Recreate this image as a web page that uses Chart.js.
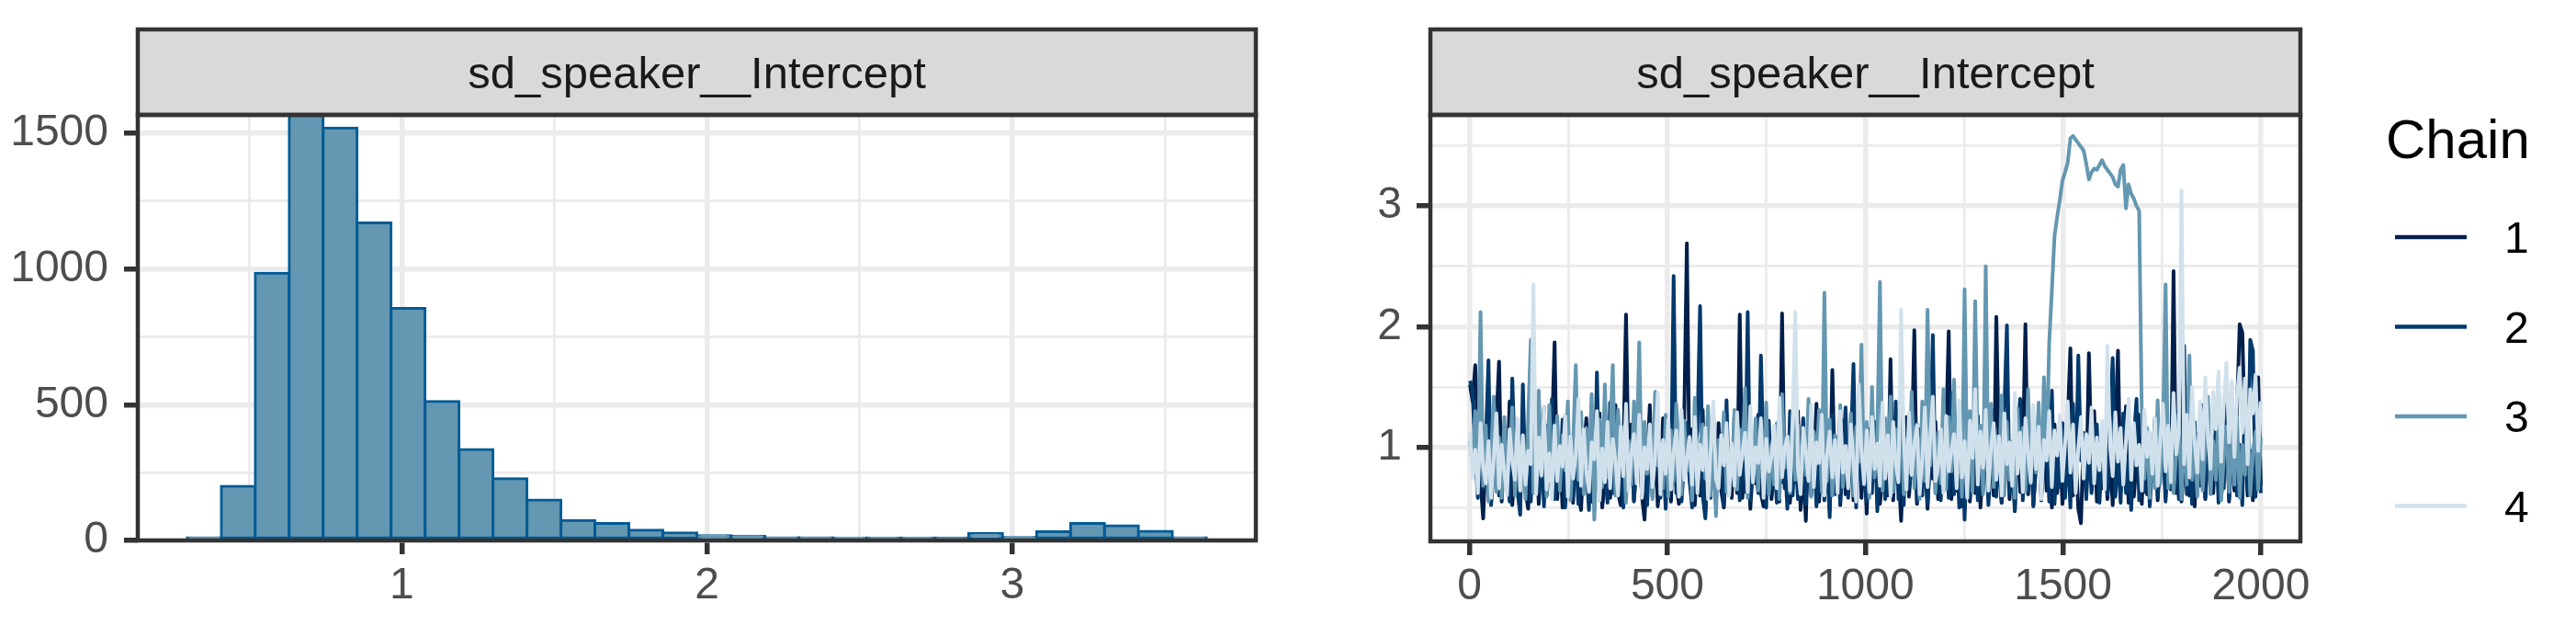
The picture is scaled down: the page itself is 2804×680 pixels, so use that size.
<!DOCTYPE html>
<html>
<head>
<meta charset="utf-8">
<title>sd_speaker__Intercept</title>
<script src="https://cdn.jsdelivr.net/npm/chart.js@4.4.1/dist/chart.umd.min.js"></script>
<style>
  html, body { margin: 0; padding: 0; background: #ffffff; }
  #wrap { position: relative; width: 2804px; height: 680px; overflow: hidden; }
  .panel { position: absolute; top: 0; }
  #histBox { left: 0; }
  #traceBox { left: 1400px; }
</style>
</head>
<body>
<div id="wrap">
  <div class="panel" id="histBox"><canvas id="histChart" width="1400" height="680"></canvas></div>
  <div class="panel" id="traceBox"><canvas id="traceChart" width="1404" height="680"></canvas></div>
</div>
<script>
const panelTitle = 'sd_speaker__Intercept';

// Histogram: bin centres and counts (30 bins)
const binCenters = [0.3527, 0.4640, 0.5753, 0.6866, 0.7979, 0.9092, 1.0205, 1.1318, 1.2431, 1.3544,
                    1.4657, 1.5770, 1.6883, 1.7996, 1.9109, 2.0222, 2.1335, 2.2448, 2.3561, 2.4674,
                    2.5787, 2.6900, 2.8013, 2.9126, 3.0239, 3.1352, 3.2465, 3.3578, 3.4691, 3.5804];
const binCounts = [10, 200, 985, 1568, 1520, 1170, 855, 512, 335, 228,
                   149, 74, 63, 38, 28, 18, 16, 10, 10, 6,
                   4, 4, 3, 25, 12, 32, 63, 54, 34, 10];
const histXMajor = [1, 2, 3];
const histXMinor = [0.5, 1.5, 2.5, 3.5];
const histYMajor = [0, 500, 1000, 1500];
const histYMinor = [250, 750, 1250];

// Trace plot: 4 chains, thinned draws spread over iterations 1..2000
const chainLabels = ['1', '2', '3', '4'];
const chainColors = ['#011f4b', '#03396c', '#6497b1', '#d1e1ec'];
const firstIter = 1;
const lastIter = 2000;

const chain1 = [
  1.52, 1.38, 1.68, 1.10, 0.72, 0.41, 0.95, 1.30, 0.62, 0.88, 1.21, 1.71, 0.55, 0.98, 0.70, 1.38, 0.52, 0.84, 1.12, 0.58,
  1.25, 0.64, 0.49, 1.05, 0.77, 1.18, 0.53, 0.92, 1.33, 0.60, 0.81, 1.10, 1.87, 0.57, 0.99, 0.50, 1.26, 0.68, 0.87, 0.54,
  1.16, 0.61, 0.48, 0.93, 1.24, 0.66, 0.55, 1.02, 0.79, 1.28, 0.50, 0.71, 1.09, 0.58, 0.86, 1.35, 0.62, 0.52, 0.97, 2.10,
  0.75, 1.19, 0.56, 0.90, 1.06, 0.60, 0.40, 0.87, 1.35, 0.59, 1.08, 0.51, 0.77, 1.24, 0.63, 0.99, 0.55, 1.14, 0.69, 0.53,
  0.94, 1.22, 2.69, 0.74, 1.15, 0.52, 0.91, 0.60, 1.31, 0.47, 1.06, 0.68, 0.89, 0.53, 1.20, 0.64, 0.50, 1.01, 0.85, 0.58,
  1.27, 0.62, 2.10, 0.58, 0.96, 1.13, 0.49, 0.85, 0.70, 1.27, 0.62, 0.51, 0.96, 1.10, 0.57, 0.82, 1.19, 0.55, 2.11, 0.66,
  1.09, 0.54, 0.93, 0.71, 1.30, 0.48, 0.82, 0.39, 1.18, 0.60, 0.84, 1.36, 0.55, 0.99, 0.63, 1.12, 0.48, 1.64, 0.70, 1.04,
  0.52, 1.22, 0.61, 0.90, 1.08, 0.56, 0.80, 1.29, 0.58, 0.97, 0.45, 1.15, 0.67, 0.88, 1.02, 0.53, 0.76, 1.18, 0.60, 1.73,
  0.56, 1.07, 0.81, 0.39, 0.95, 1.25, 0.59, 0.94, 1.97, 0.53, 1.15, 0.67, 0.88, 0.49, 1.03, 0.74, 1.21, 0.57, 0.92, 0.64,
  1.10, 1.96, 0.57, 0.92, 0.64, 1.21, 0.51, 0.84, 1.10, 0.55, 0.98, 0.62, 1.26, 0.50, 0.87, 1.17, 0.58, 1.32, 0.60, 2.08,
  0.95, 0.54, 0.83, 1.14, 0.57, 0.99, 0.47, 1.26, 0.63, 0.90, 2.02, 0.61, 1.05, 0.52, 0.86, 1.19, 0.56, 1.11, 0.64, 0.93,
  0.50, 1.19, 0.62, 1.02, 0.53, 0.89, 1.23, 1.82, 0.60, 0.96, 0.49, 0.37, 1.08, 0.62, 1.78, 0.85, 1.30, 0.55, 0.98, 0.66,
  1.13, 0.57, 0.91, 0.52, 1.16, 1.80, 0.63, 0.87, 1.34, 0.54, 1.00, 0.59, 0.88, 1.27, 0.53, 1.06, 0.61, 0.95, 0.72, 1.18,
  0.56, 0.90, 1.24, 0.58, 1.02, 0.65, 2.46, 0.62, 1.14, 0.55, 0.86, 1.28, 0.60, 0.97, 0.51, 1.11, 0.68, 1.35, 0.57, 0.93,
  1.20, 0.62, 1.04, 1.54, 0.58, 0.89, 1.26, 0.55, 1.09, 0.64, 1.31, 2.02, 1.95, 1.12, 0.60, 0.97, 0.56, 1.22, 1.58, 0.68
];
const chain2 = [
  1.55, 1.48, 0.92, 0.58, 1.20, 0.66, 1.04, 1.72, 0.52, 0.83, 1.31, 0.60, 0.97, 1.18, 0.74, 0.55, 1.57, 0.88, 0.63, 0.44,
  1.52, 0.69, 1.10, 0.55, 0.95, 1.26, 0.63, 1.01, 0.51, 1.18, 0.72, 1.40, 0.57, 0.89, 0.64, 1.23, 0.50, 0.88, 1.09, 0.59,
  0.97, 0.53, 1.15, 0.67, 0.84, 0.48, 1.29, 0.61, 1.62, 0.56, 1.04, 0.90, 0.54, 1.37, 0.62, 1.12, 0.68, 0.93, 0.50, 1.20,
  0.73, 1.06, 0.55, 0.87, 1.32, 0.60, 0.96, 0.52, 1.11, 0.64, 0.82, 1.28, 0.58, 0.94, 0.49, 1.17, 0.66, 2.42, 0.62, 1.06,
  0.55, 0.88, 1.20, 0.73, 0.50, 0.96, 1.14, 2.17, 0.60, 0.41, 0.96, 0.58, 1.28, 0.64, 0.82, 1.11, 0.52, 1.39, 0.60, 0.94,
  0.71, 1.02, 0.56, 1.19, 0.63, 2.12, 0.56, 1.07, 0.85, 0.62, 1.76, 0.89, 0.50, 1.22, 0.66, 0.99, 0.54, 1.15, 0.71, 0.92,
  0.49, 1.30, 0.60, 1.03, 0.57, 0.86, 1.24, 0.53, 0.97, 0.65, 1.10, 0.51, 0.88, 1.19, 0.56, 0.95, 0.42, 1.27, 0.61, 1.08,
  0.54, 0.90, 1.33, 0.58, 0.99, 1.69, 0.50, 1.16, 0.69, 0.85, 0.55, 1.02, 0.62, 1.21, 0.47, 0.91, 1.13, 0.57, 0.86, 1.05,
  0.64, 1.38, 0.57, 0.98, 0.52, 1.13, 0.66, 0.83, 1.26, 0.55, 0.94, 0.60, 1.17, 0.53, 0.89, 1.93, 0.62, 1.09, 0.56, 0.97,
  1.22, 0.58, 1.45, 0.61, 0.97, 0.50, 1.22, 0.40, 1.04, 0.58, 0.92, 1.31, 0.56, 1.00, 0.64, 1.19, 0.52, 0.86, 1.12, 0.59,
  0.95, 0.54, 1.28, 2.01, 0.62, 0.90, 0.48, 1.07, 1.40, 0.56, 0.98, 0.63, 1.15, 0.51, 0.87, 1.24, 0.60, 0.93, 1.06, 0.55,
  1.47, 0.53, 0.94, 0.67, 1.20, 0.58, 1.01, 0.50, 1.36, 0.64, 1.76, 0.89, 1.12, 0.57, 1.03, 0.62, 0.88, 1.19, 0.54, 0.96,
  1.08, 0.61, 1.26, 1.74, 0.59, 0.95, 0.54, 1.28, 0.62, 0.90, 0.48, 1.07, 1.40, 0.56, 0.98, 0.63, 1.15, 0.51, 0.87, 1.24,
  0.60, 0.93, 1.06, 0.55, 1.17, 0.66, 0.90, 1.30, 0.57, 1.02, 1.84, 0.61, 0.99, 0.53, 1.21, 0.68, 0.92, 1.14, 0.58, 1.33,
  0.62, 0.95, 1.18, 0.54, 1.08, 0.66, 1.39, 0.57, 0.91, 1.25, 0.60, 1.02, 0.52, 1.47, 0.64, 1.89, 1.80, 0.59, 1.03, 0.62
];
const chain3 = [
  1.05, 0.86, 1.30, 0.74, 2.12, 0.68, 1.18, 0.55, 0.96, 1.42, 0.63, 1.08, 0.58, 1.25, 0.71, 0.92, 1.33, 0.60, 1.14, 0.66,
  1.01, 0.57, 1.22, 1.89, 0.62, 0.89, 1.47, 0.76, 1.12, 0.59, 1.35, 0.70, 0.97, 1.26, 0.64, 1.10, 0.81, 1.38, 0.56, 1.02,
  1.68, 0.73, 1.29, 0.61, 1.16, 0.84, 1.44, 0.40, 0.99, 1.23, 0.67, 1.52, 0.75, 1.08, 1.68, 0.60, 1.31, 0.88, 1.17, 0.54,
  1.05, 0.69, 1.38, 0.93, 1.87, 0.62, 1.21, 0.78, 1.11, 0.57, 1.46, 0.85, 1.03, 0.66, 1.27, 0.59, 1.14, 0.72, 1.36, 0.98,
  0.61, 1.22, 0.80, 1.09, 0.56, 1.41, 0.68, 1.00, 1.19, 0.74, 1.34, 0.60, 1.13, 0.43, 1.06, 0.87, 1.29, 0.63, 1.02, 0.76,
  1.31, 0.65, 1.15, 0.90, 1.49, 0.58, 1.07, 0.71, 1.24, 0.64, 1.12, 0.79, 1.37, 0.61, 1.02, 0.69, 1.20, 0.57, 1.44, 0.83,
  1.09, 0.62, 1.26, 0.73, 1.18, 0.66, 1.05, 0.77, 1.40, 0.59, 1.13, 0.86, 1.31, 0.63, 2.28, 0.72, 1.23, 0.60, 1.10, 0.81,
  1.35, 0.67, 1.01, 0.74, 1.28, 0.60, 1.17, 0.88, 1.85, 0.69, 1.21, 0.58, 1.50, 0.75, 1.09, 2.37, 0.64, 1.24, 0.82, 1.42,
  0.63, 1.15, 0.90, 1.33, 0.61, 1.07, 0.79, 1.46, 0.66, 1.19, 0.57, 1.38, 0.72, 2.14, 0.85, 1.27, 0.62, 1.12, 0.70, 1.48,
  0.65, 1.25, 0.80, 1.56, 0.68, 1.14, 0.59, 2.31, 0.76, 1.30, 0.63, 2.21, 0.88, 1.18, 0.61, 2.50, 0.74, 1.36, 0.67, 1.09,
  0.82, 1.43, 0.60, 1.21, 0.73, 1.05, 0.58, 1.32, 0.86, 1.16, 0.64, 1.48, 0.70, 1.10, 0.79, 1.37, 0.62, 1.58, 0.93, 1.87,
  2.30, 2.75, 2.91, 3.05, 3.21, 3.28, 3.36, 3.56, 3.58, 3.55, 3.52, 3.49, 3.46, 3.35, 3.22, 3.28, 3.31, 3.30, 3.34, 3.38,
  3.33, 3.30, 3.27, 3.24, 3.18, 3.16, 3.30, 3.34, 2.98, 3.18, 3.10, 3.06, 3.00, 2.96, 1.26, 0.74, 1.16, 0.58, 1.03, 0.66,
  1.39, 0.70, 1.12, 2.35, 0.66, 1.08, 0.62, 0.95, 1.28, 0.57, 1.15, 0.69, 1.76, 0.73, 1.05, 0.59, 1.21, 0.64, 0.99, 1.42,
  0.61, 1.05, 0.73, 1.30, 0.56, 0.92, 1.17, 0.63, 1.10, 0.69, 1.25, 0.58, 1.02, 0.77, 1.34, 0.60, 0.96, 1.13, 0.65, 1.08
];
const chain4 = [
  1.12, 0.75, 0.98, 0.62, 1.20, 0.83, 0.70, 1.05, 0.58, 0.91, 1.28, 0.66, 1.02, 0.79, 0.60, 1.15, 0.88, 0.73, 1.24, 0.64,
  1.10, 0.69, 0.97, 0.86, 2.35, 0.61, 1.08, 0.77, 1.33, 0.65, 0.95, 0.57, 1.18, 0.72, 1.01, 0.84, 1.26, 0.59, 1.09, 0.74,
  0.93, 1.40, 0.68, 1.15, 0.80, 0.63, 1.04, 0.90, 1.30, 0.56, 0.99, 0.71, 1.21, 0.66, 1.07, 0.89, 0.60, 1.17, 0.76, 1.36,
  0.64, 0.94, 1.11, 0.70, 1.27, 0.58, 1.00, 0.82, 1.19, 0.67, 0.92, 1.45, 0.61, 1.06, 0.78, 1.23, 0.65, 0.96, 1.14, 0.59,
  1.31, 0.73, 0.90, 1.08, 0.69, 1.25, 0.62, 1.02, 0.81, 1.16, 0.57, 0.97, 1.38, 0.74, 0.66, 1.10, 0.85, 1.20, 0.60, 1.03,
  0.68, 1.29, 0.77, 0.95, 1.12, 0.63, 1.34, 0.71, 1.00, 0.87, 1.24, 0.58, 1.07, 0.80, 0.92, 1.18, 0.66, 1.41, 0.75, 0.99,
  1.09, 0.64, 1.22, 2.12, 0.83, 0.61, 1.16, 0.96, 0.72, 1.35, 0.67, 1.04, 0.87, 1.27, 0.60, 0.94, 1.13, 0.75, 1.06, 0.62,
  1.30, 0.79, 1.01, 0.66, 1.19, 0.88, 0.55, 1.52, 0.98, 0.70, 1.14, 0.63, 1.25, 0.82, 1.03, 0.68, 1.37, 0.74, 1.10, 0.59,
  1.21, 0.86, 0.71, 2.14, 1.08, 0.65, 1.29, 0.77, 1.02, 1.18, 0.61, 0.90, 1.33, 0.67, 1.07, 1.42, 0.72, 0.84, 1.15, 0.62,
  1.26, 0.80, 0.97, 1.11, 0.66, 1.39, 0.75, 1.05, 0.58, 1.22, 0.91, 1.48, 0.69, 1.13, 0.83, 1.31, 0.64, 1.00, 1.20, 0.73,
  1.09, 0.60, 1.28, 0.86, 1.04, 0.68, 1.45, 0.78, 1.12, 0.63, 1.24, 0.95, 0.71, 1.35, 0.82, 1.17, 0.57, 1.06, 0.89, 1.30,
  0.67, 1.14, 0.93, 1.27, 0.72, 1.03, 1.38, 0.79, 1.19, 0.62, 0.99, 1.25, 0.74, 1.11, 0.87, 1.33, 0.70, 1.08, 0.81, 1.22,
  0.65, 1.84, 1.01, 0.76, 1.29, 0.88, 1.16, 0.69, 1.05, 1.40, 0.73, 1.20, 0.85, 1.02, 0.64, 1.31, 0.92, 1.13, 0.78, 1.24,
  0.68, 1.07, 1.36, 0.80, 1.18, 0.71, 1.45, 0.94, 1.12, 3.13, 0.86, 1.27, 0.75, 1.50, 1.03, 0.79, 1.38, 0.90, 1.58, 1.09,
  0.82, 1.46, 1.15, 1.63, 0.88, 1.35, 1.70, 1.04, 1.55, 0.92, 1.42, 1.66, 1.12, 1.57, 0.86, 1.48, 1.28, 1.60, 0.97, 1.38
];
const traceXMajor = [0, 500, 1000, 1500, 2000];
const traceXMinor = [250, 750, 1250, 1750];
const traceYMajor = [1, 2, 3];
const traceYMinor = [0.5, 1.5, 2.5, 3.5];

const fontFamily = '"Liberation Sans", Arial, Helvetica, sans-serif';
Chart.defaults.font.family = fontFamily;
Chart.defaults.color = '#4D4D4D';

// ggplot-like axis: major + minor grid lines, ticks and labels on majors only
function ggScale(min, max, major, minor, thickness, labelPad) {
    const all = major.concat(minor).sort((a, b) => a - b);
    const isMajor = v => major.includes(v);
    return {
        type: 'linear',
        min: min,
        max: max,
        offset: false,
        afterBuildTicks: scale => { scale.ticks = all.map(v => ({ value: v })); },
        afterFit: scale => {
            if (scale.isHorizontal()) scale.height = thickness;
            else scale.width = thickness;
        },
        ticks: {
            autoSkip: false,
            maxRotation: 0,
            padding: labelPad,
            color: '#4D4D4D',
            font: { size: 48 },
            callback: v => isMajor(v) ? String(v) : ''
        },
        grid: {
            offset: false,
            color: '#EBEBEB',
            lineWidth: c => isMajor(c.tick.value) ? 5.5 : 2.8,
            drawTicks: true,
            tickLength: 15,
            tickWidth: 5.5,
            tickColor: c => isMajor(c.tick.value) ? '#333333' : 'rgba(0,0,0,0)'
        },
        border: { display: false }
    };
}

// Facet strip on top of the panel plus the panel border
const facetFrame = {
    id: 'facetFrame',
    afterDraw(chart, args, opts) {
        const ctx = chart.ctx;
        const a = chart.chartArea;
        ctx.save();
        ctx.fillStyle = '#D9D9D9';
        ctx.fillRect(a.left, opts.top, a.right - a.left, a.top - opts.top);
        ctx.lineWidth = 4.5;
        ctx.strokeStyle = '#333333';
        ctx.strokeRect(a.left, opts.top, a.right - a.left, a.top - opts.top);
        ctx.strokeRect(a.left, a.top, a.right - a.left, a.bottom - a.top);
        ctx.fillStyle = '#1A1A1A';
        ctx.font = '49px ' + fontFamily;
        ctx.textAlign = 'center';
        ctx.textBaseline = 'alphabetic';
        ctx.fillText(opts.text, (a.left + a.right) / 2, opts.baseline);
        ctx.restore();
    }
};

// Legend for the chains, drawn to the right of the trace panel
const chainLegend = {
    id: 'chainLegend',
    afterDraw(chart, args, opts) {
        const ctx = chart.ctx;
        ctx.save();
        ctx.fillStyle = '#000000';
        ctx.textAlign = 'left';
        ctx.textBaseline = 'alphabetic';
        ctx.font = '60px ' + fontFamily;
        ctx.fillText(opts.title, opts.left - 3, opts.titleBaseline);
        ctx.font = '48px ' + fontFamily;
        chart.data.datasets.forEach((ds, i) => {
            const y = opts.firstKey + i * opts.keyStep;
            ctx.strokeStyle = ds.borderColor;
            ctx.lineWidth = 4.5;
            ctx.beginPath();
            ctx.moveTo(opts.left + 7, y);
            ctx.lineTo(opts.left + 85, y);
            ctx.stroke();
            ctx.fillText(ds.label, opts.left + 126, y + 17);
        });
        ctx.restore();
    }
};

// 1. Histogram
const histCanvas = document.getElementById('histChart');
if (histCanvas) {
    new Chart(histCanvas, {
        type: 'bar',
        data: {
            datasets: [{
                data: binCenters.map((c, i) => ({ x: c, y: binCounts[i] })),
                backgroundColor: '#6497b1',
                borderColor: '#005b96',
                borderWidth: 3,
                inflateAmount: 1.5,
                borderSkipped: false,
                barPercentage: 1,
                categoryPercentage: 1
            }]
        },
        options: {
            responsive: false,
            animation: false,
            devicePixelRatio: 1,
            events: [],
            layout: { padding: { top: 125, right: 33, bottom: 0, left: 0 } },
            plugins: {
                legend: { display: false },
                tooltip: { enabled: false },
                facetFrame: { top: 32, baseline: 96, text: panelTitle }
            },
            scales: {
                x: ggScale(0.135, 3.798, histXMajor, histXMinor, 92, 6),
                y: ggScale(0, 1568, histYMajor, histYMinor, 150, 17)
            }
        },
        plugins: [facetFrame]
    });
}

// 2. Trace plot
const traceCanvas = document.getElementById('traceChart');
if (traceCanvas) {
    const chains = [chain1, chain2, chain3, chain4];
    new Chart(traceCanvas, {
        type: 'line',
        data: {
            datasets: chains.map((vals, k) => ({
                label: chainLabels[k],
                data: vals.map((v, i) => ({
                    x: firstIter + i * (lastIter - firstIter) / (vals.length - 1),
                    y: v
                })),
                borderColor: chainColors[k],
                borderWidth: 4,
                borderJoinStyle: 'round',
                pointRadius: 0,
                tension: 0,
                fill: false,
                order: chains.length - 1 - k
            }))
        },
        options: {
            responsive: false,
            animation: false,
            devicePixelRatio: 1,
            events: [],
            layout: { padding: { top: 125, right: 300, bottom: 0, left: 0 } },
            plugins: {
                legend: { display: false },
                tooltip: { enabled: false },
                facetFrame: { top: 32, baseline: 96, text: panelTitle },
                chainLegend: { title: 'Chain', left: 1200, titleBaseline: 172, firstKey: 258, keyStep: 97.5 }
            },
            scales: {
                x: ggScale(-99, 2100, traceXMajor, traceXMinor, 91, 6),
                y: ggScale(0.22, 3.755, traceYMajor, traceYMinor, 157, 16)
            }
        },
        plugins: [facetFrame, chainLegend]
    });
}
</script>
</body>
</html>
